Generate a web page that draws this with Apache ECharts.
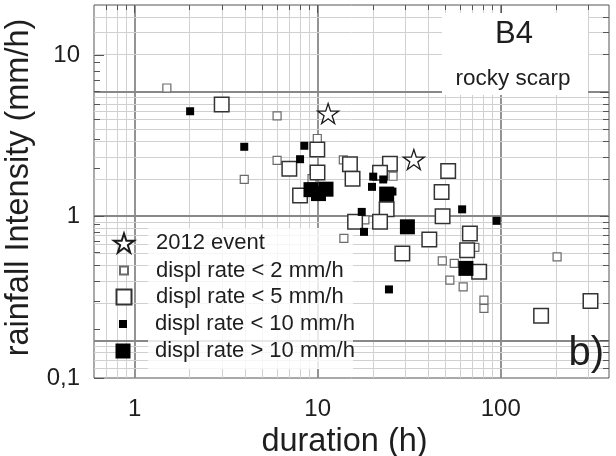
<!DOCTYPE html>
<html><head><meta charset="utf-8">
<script src="https://cdn.jsdelivr.net/npm/echarts@6/dist/echarts.min.js"></script>
<style>html,body{margin:0;padding:0;background:#fff}#c{width:616px;height:456px}</style>
</head><body><div id="c"></div>
<script>
const FONT = '"Liberation Sans", Arial, sans-serif';

// ---- data (duration h, rainfall intensity mm/h) ----
const event2012 = [[11.4, 4.36], [33.5, 2.26]];
const displLt2 = [[1.50,6.27],[6.00,4.21],[3.97,1.70],[6.00,2.23],[9.95,3.05],[9.31,1.72],[13.8,2.25],[25.8,1.78],[18.1,0.955],[13.9,0.733],[72.2,0.645],[47.9,0.532],[55.7,0.513],[52.7,0.404],[62.3,0.367],[80.9,0.304],[80.9,0.270],[203,0.564]];
const displLt5 = [[2.99,4.95],[7.00,1.98],[9.95,2.61],[9.97,1.88],[8.01,1.35],[15.0,2.11],[15.5,1.72],[24.8,2.13],[21.9,1.87],[23.8,1.11],[16.0,0.929],[21.9,0.929],[40.7,0.723],[29.0,0.592],[51.6,1.92],[47.5,1.42],[48.1,1.007],[67.8,0.787],[65.5,0.620],[76.2,0.455],[166,0.243],[309,0.300]];
const displLt10 = [[2.01,4.50],[3.97,2.71],[8.45,2.75],[8.01,2.27],[20.1,1.77],[22.8,1.70],[19.8,1.53],[25.6,1.43],[17.4,1.07],[17.9,0.805],[24.5,0.354],[61.5,1.11],[94.8,0.942]];
const displGt10 = [[9.19,1.47],[10.1,1.39],[11.1,1.48],[23.8,1.38],[30.9,0.865],[64.5,0.478]];

// ---- tick labels / grid values ----
const xTickLabels = [1, 10, 100];
const yTickLabels = [0.1, 1, 10];
const xGridMajor = [1, 10, 100];
const xGridMinor = [0.7,0.8,0.9,2,3,4,5,6,7,8,9,20,30,40,50,60,70,80,90,200,300];
const hGridMajor = [0.1, 1, 10];
const hGridMinor = [0.06,0.07,0.08,0.09,0.2,0.3,0.4,0.5,0.6,0.7,0.8,0.9,2,3,4,5,6,7,8,9,20,30,40];
const yTickMinor = [0.2,0.3,0.4,0.5,0.6,0.7,0.8,0.9,2,3,4,5,6,7,8,9];

const legendNames = ['2012 event','displ rate < 2 mm/h','displ rate < 5 mm/h','displ rate < 10 mm/h','displ rate > 10 mm/h'];

const STAR = 'path://M50,2 L61.2,36.5 L97.6,36.5 L68.2,57.9 L79.4,92.5 L50,71.1 L20.6,92.5 L31.8,57.9 L2.4,36.5 L38.8,36.5 Z';

function isDecade(v){ const l = Math.log10(v); return Math.abs(l - Math.round(l)) < 1e-6; }

const chart = echarts.init(document.getElementById('c'), null, {renderer:'canvas'});

const minorV = {color:'#d0d0d0', width:1, type:'solid'};
const majorV = {color:'#888', width:1.8, type:'solid'};
const tickS = {color:'#555', width:1, type:'solid'};

const legendIcon = [20, 8, 15, 8, 15];
const legendCy = [243, 270.5, 297, 324, 351];

const option = {
  animation: false,
  backgroundColor: '#fff',
  grid: {left: 94, right: 7, top: 5, bottom: 78, show: true, borderColor: '#555', borderWidth: 1,
    backgroundColor: 'transparent', containLabel: false, outerBoundsMode: 'none'},
  xAxis: [{
    type: 'log', min: 0.6, max: 390,
    axisLine: {show: false}, axisTick: {show: false}, splitLine: {show: false},
    axisLabel: {fontFamily: FONT, fontSize: 24, color: '#1e1e1e', margin: 19,
      formatter: v => (isDecade(v) && xTickLabels.some(t => Math.abs(t - v) < 1e-9)) ? String(Math.round(v)) : ''},
    name: 'duration (h)', nameLocation: 'middle', nameGap: 45,
    nameTextStyle: {fontFamily: FONT, fontSize: 32.5, color: '#1e1e1e', padding: [0, 14, 0, 0]}
  }],
  yAxis: [{
    type: 'log', min: 0.1, max: 20.5,
    axisLine: {show: false}, axisTick: {show: false}, splitLine: {show: false},
    axisLabel: {fontFamily: FONT, fontSize: 24, color: '#1e1e1e', margin: 14, showMinLabel: true,
      formatter: v => {
        const t = yTickLabels.find(t => Math.abs(t - v) < 1e-9);
        return t === undefined ? '' : String(t).replace('.', ',');
      }},
    name: 'rainfall Intensity (mm/h)', nameLocation: 'middle', nameGap: 55,
    nameTextStyle: {fontFamily: FONT, fontSize: 32.5, color: '#1e1e1e', padding: [0, 0, 0, 8]}
  }, {
    type: 'log', min: 0.05, max: 50, show: false
  }],
  legend: legendNames.map((n, i) => ({
    data: [n], orient: 'vertical', selectedMode: false, padding: 0,
    left: 123 - legendIcon[i] / 2, top: legendCy[i] - 11,
    itemWidth: legendIcon[i], itemHeight: legendIcon[i], symbolKeepAspect: true,
    textStyle: {fontFamily: FONT, fontSize: 22, lineHeight: 22, color: '#1e1e1e', padding: [0, 0, 0, 27 - legendIcon[i] / 2]},
    z: 4
  })),
  graphic: [
    {type: 'rect', z: 1.5, silent: true, shape: {x: 148, y: 228, width: 205, height: 141}, style: {fill: 'rgba(255,255,255,0.8)'}},
    {type: 'rect', z: 1.5, silent: true, shape: {x: 442, y: 13, width: 146, height: 82}, style: {fill: '#fff'}},
    {type: 'text', z: 4, x: 514, y: 34, style: {text: 'B4', font: '31px ' + FONT, fill: '#1e1e1e', textAlign: 'center', textVerticalAlign: 'middle'}},
    {type: 'text', z: 4, x: 513, y: 79, style: {text: 'rocky scarp', font: '22.5px ' + FONT, fill: '#1e1e1e', textAlign: 'center', textVerticalAlign: 'middle'}},
    {type: 'text', z: 4, x: 604, y: 354, style: {text: 'b)', font: '40px ' + FONT, fill: '#1e1e1e', textAlign: 'right', textVerticalAlign: 'middle'}}
  ],
  series: [
    // vertical gridlines + top / left ticks (primary axes)
    {type: 'scatter', data: [], xAxisIndex: 0, yAxisIndex: 0, silent: true,
      markLine: {silent: true, z: 1, symbol: ['none','none'], label: {show: false}, emphasis: {disabled: true}, animation: false,
        data: [
          ...xGridMinor.map(v => ({xAxis: v, lineStyle: minorV})),
          ...xGridMajor.map(v => ({xAxis: v, lineStyle: majorV}))
        ]}},
    {type: 'scatter', data: [], xAxisIndex: 0, yAxisIndex: 0, silent: true,
      markLine: {silent: true, z: 3, symbol: ['none','none'], label: {show: false}, emphasis: {disabled: true}, animation: false,
        data: [
          ...xGridMinor.map(v => [{xAxis: v, y: 5, lineStyle: tickS}, {xAxis: v, y: 10}]),
          ...xGridMajor.map(v => [{xAxis: v, y: 5, lineStyle: tickS}, {xAxis: v, y: 13}]),
          ...yTickMinor.map(v => [{x: 94, yAxis: v, lineStyle: tickS}, {x: 100, yAxis: v}]),
          ...yTickLabels.map(v => [{x: 94, yAxis: v, lineStyle: tickS}, {x: 104, yAxis: v}])
        ]}},
    // horizontal gridlines + right ticks (secondary y scale)
    {type: 'scatter', data: [], xAxisIndex: 0, yAxisIndex: 1, silent: true,
      markLine: {silent: true, z: 1, symbol: ['none','none'], label: {show: false}, emphasis: {disabled: true}, animation: false,
        data: [
          ...hGridMinor.map(v => ({yAxis: v, lineStyle: minorV})),
          ...hGridMajor.map(v => ({yAxis: v, lineStyle: majorV}))
        ]}},
    {type: 'scatter', data: [], xAxisIndex: 0, yAxisIndex: 1, silent: true,
      markLine: {silent: true, z: 3, symbol: ['none','none'], label: {show: false}, emphasis: {disabled: true}, animation: false,
        data: [
          ...hGridMinor.map(v => [{x: 603, yAxis: v, lineStyle: tickS}, {x: 609, yAxis: v}]),
          ...hGridMajor.map(v => [{x: 600, yAxis: v, lineStyle: tickS}, {x: 609, yAxis: v}])
        ]}},
    {name: legendNames[1], type: 'scatter', data: displLt2, symbol: 'rect', symbolSize: 8, z: 2,
      itemStyle: {color: '#fff', borderColor: '#6a6a6a', borderWidth: 1.2, opacity: 1}, emphasis: {disabled: true}},
    {name: legendNames[2], type: 'scatter', data: displLt5, symbol: 'rect', symbolSize: 14.5, z: 2,
      itemStyle: {color: '#fff', borderColor: '#333', borderWidth: 1.5, opacity: 1}, emphasis: {disabled: true}},
    {name: legendNames[3], type: 'scatter', data: displLt10, symbol: 'rect', symbolSize: 8, z: 2,
      itemStyle: {color: '#000', opacity: 1}, emphasis: {disabled: true}},
    {name: legendNames[4], type: 'scatter', data: displGt10, symbol: 'rect', symbolSize: 15, z: 2,
      itemStyle: {color: '#000', opacity: 1}, emphasis: {disabled: true}},
    {name: legendNames[0], type: 'scatter', data: event2012, symbol: STAR, symbolSize: 21, symbolKeepAspect: true, z: 2,
      itemStyle: {color: '#fff', borderColor: '#1a1a1a', borderWidth: 1.3, opacity: 1}, emphasis: {disabled: true}}
  ]
};
chart.setOption(option);
</script>
</body></html>
